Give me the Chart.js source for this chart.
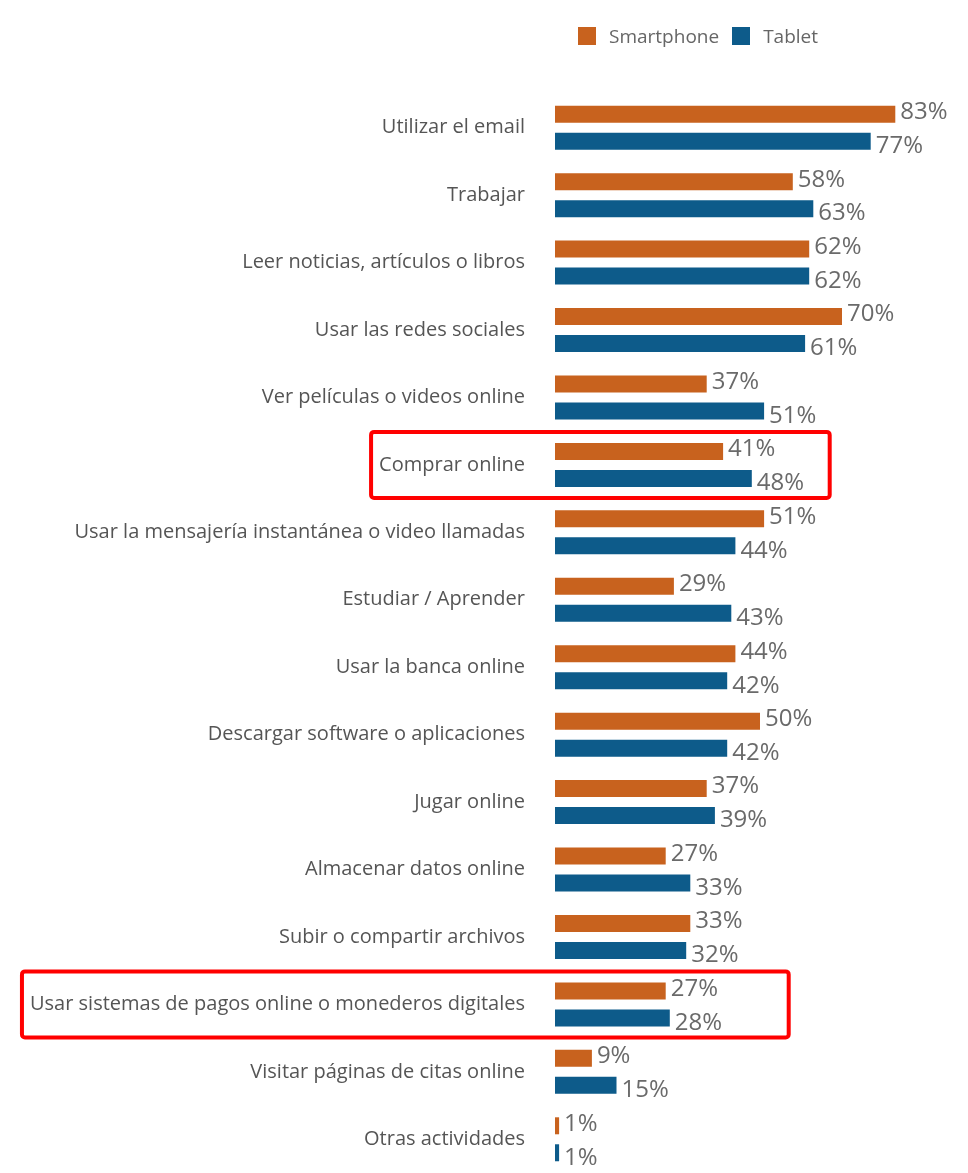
<!DOCTYPE html>
<html>
<head>
<meta charset="utf-8">
<script src="https://cdn.jsdelivr.net/npm/chart.js@4"></script>
<style>
  html, body { margin: 0; padding: 0; background: #fff; }
  #wrap { position: relative; width: 968px; height: 1173px; }
  #legend { position: absolute; top: 23px; left: 578px; font: 19px "Open Sans", sans-serif; color: #666; display: flex; align-items: center; }
  #legend span.box { display: inline-block; width: 18px; height: 18px; margin-right: 13px; }
  #legend span.txt { margin-right: 13px; }
</style>
</head>
<body>
<div id="wrap">
  <canvas id="chart" width="968" height="1173"></canvas>
  <div id="legend"></div>
</div>
<script>
const categories = [
  "Utilizar el email",
  "Trabajar",
  "Leer noticias, artículos o libros",
  "Usar las redes sociales",
  "Ver películas o videos online",
  "Comprar online",
  "Usar la mensajería instantánea o video llamadas",
  "Estudiar / Aprender",
  "Usar la banca online",
  "Descargar software o aplicaciones",
  "Jugar online",
  "Almacenar datos online",
  "Subir o compartir archivos",
  "Usar sistemas de pagos online o monederos digitales",
  "Visitar páginas de citas online",
  "Otras actividades"
];
const smartphone = [83, 58, 62, 70, 37, 41, 51, 29, 44, 50, 37, 27, 33, 27, 9, 1];
const tablet     = [77, 63, 62, 61, 51, 48, 44, 43, 42, 42, 39, 33, 32, 28, 15, 1];
const seriesNames = ["Smartphone", "Tablet"];
const highlighted = ["Comprar online", "Usar sistemas de pagos online o monederos digitales"];

const colors = ["#c8621e", "#0d5b8a"];
const labelFont = '20px "Open Sans", sans-serif';
const tickPad = 22;

// html legend
const leg = document.getElementById('legend');
seriesNames.forEach((n, i) => {
  leg.innerHTML += '<span class="box" style="background:' + colors[i] + '"></span><span class="txt">' + n + '</span>';
});

// value labels next to bars
const valueLabels = {
  id: 'valueLabels',
  afterDatasetsDraw(chart) {
    const ctx = chart.ctx;
    ctx.save();
    ctx.font = '24px "Open Sans", sans-serif';
    ctx.fillStyle = '#6a6a6a';
    ctx.textBaseline = 'middle';
    chart.data.datasets.forEach((ds, di) => {
      chart.getDatasetMeta(di).data.forEach((bar, i) => {
        const dy = di === 0 ? -2 : 5;
        ctx.fillText(ds.data[i] + '%', bar.x + 5, bar.y + dy);
      });
    });
    ctx.restore();
  }
};

// red boxes round highlighted rows (right edge given in % of the value axis)
const boxRight = [67, 57];
const highlightBoxes = {
  id: 'highlightBoxes',
  afterDraw(chart) {
    const ctx = chart.ctx;
    const y = chart.scales.y, x = chart.scales.x;
    ctx.save();
    ctx.font = labelFont;
    ctx.strokeStyle = '#ff0000';
    ctx.lineWidth = 4;
    highlighted.forEach((name, k) => {
      const i = categories.indexOf(name);
      const cy = y.getPixelForValue(i);
      const w = ctx.measureText(name).width;
      const left = Math.max(12, chart.chartArea.left - tickPad - w - 16);
      const right = x.getPixelForValue(boxRight[k]);
      ctx.beginPath();
      ctx.roundRect(left, cy - 33, right - left, 66, 3);
      ctx.stroke();
    });
    ctx.restore();
  }
};

new Chart(document.getElementById('chart').getContext('2d'), {
  type: 'bar',
  data: {
    labels: categories,
    datasets: [
      { label: seriesNames[0], data: smartphone, backgroundColor: colors[0] },
      { label: seriesNames[1], data: tablet, backgroundColor: colors[1] }
    ]
  },
  options: {
    indexAxis: 'y',
    responsive: false,
    animation: false,
    categoryPercentage: 0.8,
    barPercentage: 0.63,
    layout: { padding: { top: 94, right: 3, bottom: 0, left: 0 } },
    plugins: {
      legend: { display: false },
      tooltip: { enabled: false }
    },
    scales: {
      x: { display: false, min: 0, max: 100 },
      y: {
        grid: { display: false },
        border: { display: false },
        ticks: {
          padding: tickPad,
          color: '#555',
          font: { family: '"Open Sans", sans-serif', size: 20 }
        },
        afterFit(scale) {
          scale.width = 555;
          scale.paddingTop = 0;
          scale.paddingBottom = 0;
        }
      }
    }
  },
  plugins: [valueLabels, highlightBoxes]
});
</script>
</body>
</html>
